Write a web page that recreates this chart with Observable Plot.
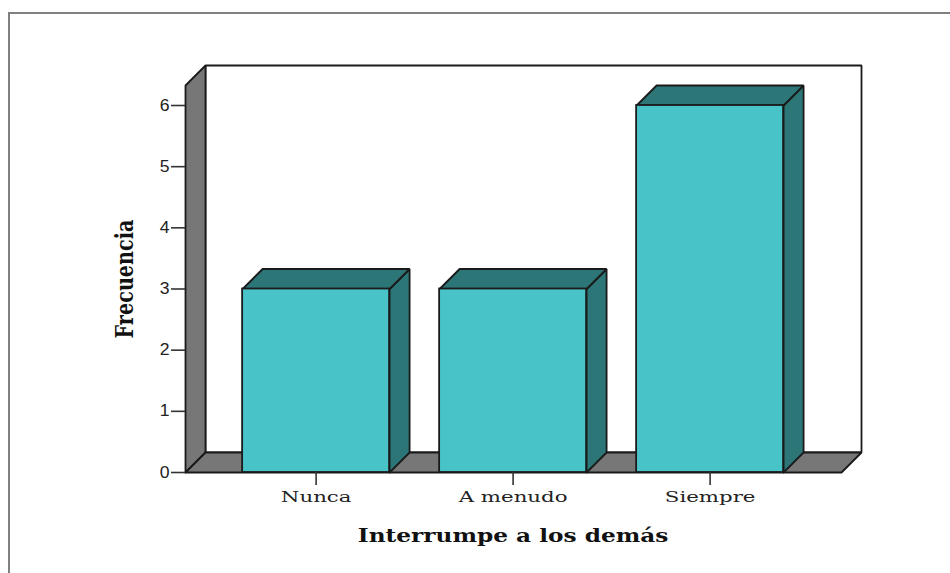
<!DOCTYPE html>
<html>
<head>
<meta charset="utf-8">
<script src="https://cdn.jsdelivr.net/npm/d3@7"></script>
<script src="https://cdn.jsdelivr.net/npm/@observablehq/plot@0.6"></script>
<style>
html,body{margin:0;padding:0;background:#fff;overflow:hidden}
#frame{position:absolute;left:8px;top:12px;width:942px;height:561px;border-top:2px solid #808080;border-left:2px solid #808080;box-sizing:border-box}
#chart{position:absolute;left:0;top:0}
</style>
</head>
<body>
<div id="frame"></div>
<div id="chart"></div>
<script>
const categories = ["Nunca", "A menudo", "Siempre"];
const frequencies = [3, 3, 6];
const yTicks = [0, 1, 2, 3, 4, 5, 6];
const xTitle = "Interrumpe a los demás";
const yTitle = "Frecuencia";

// Scale and 3D extrusion settings, in data units
const xMin = -0.663, xFront = 2.667, depthX = 0.1015;
const yFrontTop = 6.327, depthY = 0.327;
const halfBar = 0.373;

const poly = (id, pts) => pts.concat([pts[0]]).map(([x, y]) => ({id, x, y}));
const bars = frequencies.map((v, i) => ({i, v, l: i - halfBar, r: i + halfBar}));

const back = poly("back", [[xMin + depthX, depthY], [xFront + depthX, depthY], [xFront + depthX, yFrontTop + depthY], [xMin + depthX, yFrontTop + depthY]]);
const wall = poly("wall", [[xMin, 0], [xMin, yFrontTop], [xMin + depthX, yFrontTop + depthY], [xMin + depthX, depthY]]);
const floor = poly("floor", [[xMin, 0], [xMin + depthX, depthY], [xFront + depthX, depthY], [xFront, 0]]);
const tops = bars.flatMap(b => poly(b.i, [[b.l, b.v], [b.l + depthX, b.v + depthY], [b.r + depthX, b.v + depthY], [b.r, b.v]]));
const sides = bars.flatMap(b => poly(b.i, [[b.r, 0], [b.r + depthX, depthY], [b.r + depthX, b.v + depthY], [b.r, b.v]]));

const edge = "#1a1a1a";
const shape = (data, fill) => Plot.line(data, {x: "x", y: "y", z: "id", fill, stroke: edge, strokeWidth: 1.8, strokeLinejoin: "miter", curve: "linear"});

const plot = Plot.plot({
  width: 950,
  height: 573,
  marginLeft: 185,
  marginRight: 89,
  marginTop: 65,
  marginBottom: 101,
  style: {background: "transparent", overflow: "visible"},
  x: {type: "linear", domain: [xMin, xFront + depthX]},
  y: {type: "linear", domain: [0, yFrontTop + depthY]},
  marks: [
    shape(back, "#ffffff"),
    shape(wall, "#777777"),
    shape(floor, "#777777"),
    shape(sides, "#2c7678"),
    shape(tops, "#2c7678"),
    Plot.rect(bars, {x1: "l", x2: "r", y1: 0, y2: "v", fill: "#48c3c8", stroke: edge, strokeWidth: 1.8}),
    Plot.axisY({ticks: yTicks, tickSize: 14, tickPadding: 2, tickFormat: "d", label: null, fontSize: 16, fontFamily: "Liberation Sans", stroke: "#333", strokeWidth: 1.6, fill: "#222"}),
    Plot.axisX({ticks: [0, 1, 2], tickSize: 13, tickPadding: 6, tickFormat: i => categories[i], label: null, fontSize: 15, fontFamily: "DejaVu Serif", stroke: "#333", strokeWidth: 1.6, fill: "#222"}),
    Plot.text([xTitle], {x: () => 1, y: () => 0, dy: 64, text: d => d, fontSize: 18, fontWeight: "bold", fontFamily: "DejaVu Serif", fill: "#111", textAnchor: "middle"}),
    Plot.text([yTitle], {frameAnchor: "left", dx: -60, dy: 10, rotate: -90, text: d => d, fontSize: 24, fontWeight: "bold", fontFamily: "DejaVu Serif", fill: "#111", textAnchor: "middle"})
  ]
});
document.getElementById("chart").appendChild(plot);

// The reference's bitmap lettering is wider (or narrower) than any installed face
const stretch = (labels, factor) => plot.querySelectorAll("text").forEach(t => {
  if (!labels.includes(t.textContent)) return;
  t.setAttribute("textLength", t.getComputedTextLength() * factor);
  t.setAttribute("lengthAdjust", "spacingAndGlyphs");
});
stretch(categories, 1.42);
stretch(yTicks.map(String), 1.1);
stretch([xTitle], 1.29);
stretch([yTitle], 0.8);
</script>
</body>
</html>
